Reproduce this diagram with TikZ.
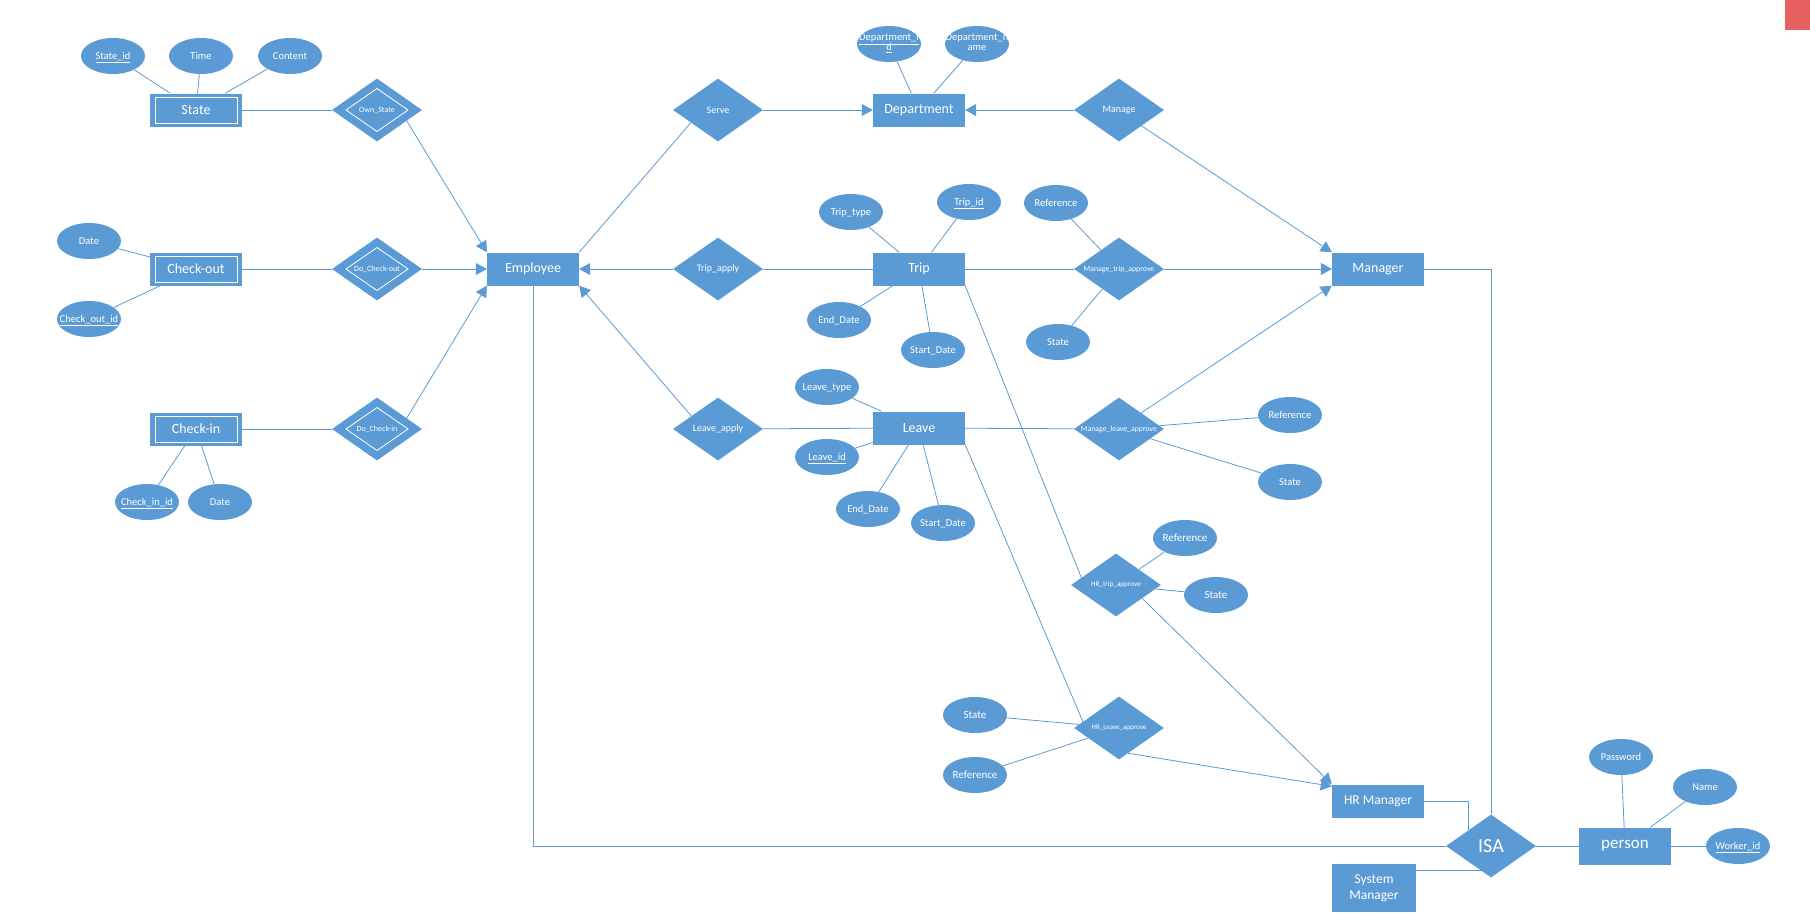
\documentclass[tikz,border=0pt]{standalone}
\usepackage{fontspec}
\setmainfont{Carlito}
\usetikzlibrary{shapes.geometric,arrows.meta}
\definecolor{erblue}{HTML}{5B9BD5}
\definecolor{tabred}{HTML}{E6605F}
% text of an attribute may run past its ellipse
\newcommand{\attrtxt}[1]{\smash{\makebox[0pt]{\raisebox{-0.33em}{#1}}}}
\newcommand{\attrtwo}[2]{\smash{\makebox[0pt]{\raisebox{-0.2em}{\begin{tabular}{@{}c@{}}#1\\[-2pt]#2\end{tabular}}}}}

\begin{document}
\begin{tikzpicture}[x=1pt, y=-1pt]
    % Style definitions for the ER shapes
    \tikzset{entity/.style={rectangle, minimum width=92pt, minimum height=33pt, inner sep=1pt,
             text centered, fill=erblue, text=white, font=\fontsize{14}{16}\selectfont},
             weakentity/.style={entity, path picture={\draw [white, line width=0.9pt]
                 ([xshift=5pt, yshift=-3.5pt]path picture bounding box.north west) rectangle
                 ([xshift=-5pt, yshift=3.5pt]path picture bounding box.south east);}},
             relation/.style={diamond, aspect=1.43, minimum width=90pt, minimum height=63pt, inner sep=0pt,
             text centered, fill=erblue, text=white, font=\fontsize{10}{12}\selectfont},
             weakrelation/.style={relation, font=\fontsize{8}{10}\selectfont, path picture={\draw [white, line width=0.8pt]
                 ([xshift=-31pt]path picture bounding box.center) -- ([yshift=21.5pt]path picture bounding box.center) --
                 ([xshift=31pt]path picture bounding box.center) -- ([yshift=-21.5pt]path picture bounding box.center) -- cycle;}},
             attribute/.style={ellipse, minimum width=64pt, minimum height=36pt, inner sep=0pt,
             fill=erblue, text=white, font=\fontsize{10.5}{12}\selectfont},
             small/.style={font=\fontsize{7.8}{9}\selectfont},
             link/.style={draw=erblue, line width=0.8pt}}
    \tikzstyle{arrow} = [link, -{Triangle[length=11pt, width=12pt]}]

    \path [use as bounding box, fill=white] (0,0) rectangle (1810,916);
    \fill [tabred] (1785,0) rectangle (1810,30);

    % Weak entities and their relations
    \node (state) [weakentity] at (196,110) {State};
    \node (checkout) [weakentity] at (196,269) {Check-out};
    \node (checkin) [weakentity] at (196,429) {Check-in};
    \node (ownstate) [weakrelation] at (377,110) {Own\_State};
    \node (docheckout) [weakrelation] at (377,269) {Do\_Check-out};
    \node (docheckin) [weakrelation] at (377,429) {Do\_Check-in};

    % Main entities
    \node (employee) [entity] at (533,269) {Employee};
    \node (department) [entity] at (919,110) {Department};
    \node (trip) [entity] at (919,269) {Trip};
    \node (leave) [entity] at (919,428) {Leave};
    \node (manager) [entity] at (1378,269) {Manager};
    \node (hrmgr) [entity, font=\fontsize{13.5}{16}\selectfont] at (1378,801) {HR Manager};
    \node (sysmgr) [entity, minimum width=84pt, minimum height=48pt, align=center,
          font=\fontsize{13.5}{16}\selectfont] at (1374,888) {System\\Manager};
    \node (person) [entity, minimum height=37pt, font=\fontsize{17}{19}\selectfont] at (1625,846) {person};

    % Relations
    \node (serve) [relation] at (718,110) {Serve};
    \node (tripapply) [relation] at (718,269) {Trip\_apply};
    \node (leaveapply) [relation] at (718,429) {Leave\_apply};
    \node (manage) [relation] at (1119,110) {Manage};
    \node (mtrip) [relation, small] at (1119,269) {Manage\_trip\_approve};
    \node (mleave) [relation, small] at (1119,429) {Manage\_leave\_approve};
    \node (hrtrip) [relation, font=\fontsize{7.2}{9}\selectfont] at (1116,585) {HR\_trip\_approve};
    \node (hrleave) [relation, font=\fontsize{7}{9}\selectfont] at (1119,728) {HR\_Leave\_approve};
    \node (isa) [relation, font=\fontsize{20}{22}\selectfont] at (1491,846) {ISA};

    % Attributes
    \node (stateid) [attribute] at (113,56) {\attrtxt{\underline{State\_id}}};
    \node (time) [attribute] at (201,56) {\attrtxt{Time}};
    \node (content) [attribute] at (290,56) {\attrtxt{Content}};
    \node (codate) [attribute] at (89,241) {\attrtxt{Date}};
    \node (coid) [attribute] at (89,319) {\attrtxt{\underline{Check\_out\_id}}};
    \node (ciid) [attribute] at (147,502) {\attrtxt{\underline{Check\_in\_id}}};
    \node (cidate) [attribute] at (220,502) {\attrtxt{Date}};
    \node (deptid) [attribute] at (889,44) {\attrtwo{\underline{Department\_i}}{\underline{d}}};
    \node (deptname) [attribute] at (977,44) {\attrtwo{Department\_n}{ame}};
    \node (triptype) [attribute] at (851,212) {\attrtxt{Trip\_type}};
    \node (tripid) [attribute] at (969,202) {\attrtxt{\underline{Trip\_id}}};
    \node (tripend) [attribute] at (839,320) {\attrtxt{End\_Date}};
    \node (tripstart) [attribute] at (933,350) {\attrtxt{Start\_Date}};
    \node (leavetype) [attribute] at (827,387) {\attrtxt{Leave\_type}};
    \node (leaveid) [attribute] at (827,457) {\attrtxt{\underline{Leave\_id}}};
    \node (leaveend) [attribute] at (868,509) {\attrtxt{End\_Date}};
    \node (leavestart) [attribute] at (943,523) {\attrtxt{Start\_Date}};
    \node (mtripref) [attribute] at (1056,203) {\attrtxt{Reference}};
    \node (mtripstate) [attribute] at (1058,342) {\attrtxt{State}};
    \node (mleaveref) [attribute] at (1290,415) {\attrtxt{Reference}};
    \node (mleavestate) [attribute] at (1290,482) {\attrtxt{State}};
    \node (hrtripref) [attribute, font=\fontsize{11}{12}\selectfont] at (1185,538) {\attrtxt{Reference}};
    \node (hrtripstate) [attribute, font=\fontsize{11}{12}\selectfont] at (1216,595) {\attrtxt{State}};
    \node (hrleavestate) [attribute, font=\fontsize{11}{12}\selectfont] at (975,715) {\attrtxt{State}};
    \node (hrleaveref) [attribute, font=\fontsize{11}{12}\selectfont] at (975,775) {\attrtxt{Reference}};
    \node (password) [attribute] at (1621,757) {\attrtxt{Password}};
    \node (name) [attribute] at (1705,787) {\attrtxt{Name}};
    \node (workerid) [attribute] at (1738,846) {\attrtxt{\underline{Worker\_id}}};

    % Attribute lines
    \draw [link] (stateid) -- (state);
    \draw [link] (time) -- (state);
    \draw [link] (content) -- (state);
    \draw [link] (codate) -- (checkout);
    \draw [link] (coid) -- (checkout);
    \draw [link] (ciid) -- (checkin);
    \draw [link] (cidate) -- (checkin);
    \draw [link] (deptid) -- (department);
    \draw [link] (deptname) -- (department);
    \draw [link] (triptype) -- (trip);
    \draw [link] (tripid) -- (trip);
    \draw [link] (tripend) -- (trip);
    \draw [link] (tripstart) -- (trip);
    \draw [link] (leavetype) -- (leave);
    \draw [link] (leaveid) -- (leave);
    \draw [link] (leaveend) -- (leave);
    \draw [link] (leavestart) -- (leave);
    \draw [link] (mtripref) -- (mtrip);
    \draw [link] (mtripstate) -- (mtrip);
    \draw [link] (mleaveref) -- (mleave);
    \draw [link] (mleavestate) -- (mleave);
    \draw [link] (hrtripref) -- (hrtrip);
    \draw [link] (hrtripstate) -- (hrtrip);
    \draw [link] (hrleavestate) -- (hrleave);
    \draw [link] (hrleaveref) -- (hrleave);
    \draw [link] (password) -- (person);
    \draw [link] (name) -- (person);
    \draw [link] (workerid) -- (person);

    % Relation lines
    \draw [link] (state) -- (ownstate);
    \draw [link] (checkout) -- (docheckout);
    \draw [link] (checkin) -- (docheckin);
    \draw [link] (serve.205) -- (employee.north east);
    \draw [link] (trip) -- (tripapply);
    \draw [link] (leave) -- (leaveapply);
    \draw [link] (trip) -- (mtrip);
    \draw [link] (leave) -- (mleave);
    \draw [link] (trip.south east) -- (hrtrip.168);
    \draw [link] (leave.south east) -- (hrleave.170);
    \draw [link] (isa) -- (person);
    \draw [link] (employee.south) |- (isa.west);
    \draw [link] (manager.east) -| (isa.north);
    \draw [link] (hrmgr.east) -| (isa.north west);
    \draw [link] (isa.248) -- (isa.248 -| sysmgr.east);

    % Arrows
    \draw [arrow] (ownstate.-20) -- (employee.north west);
    \draw [arrow] (docheckout) -- (employee);
    \draw [arrow] (docheckin.20) -- (employee.south west);
    \draw [arrow] (tripapply) -- (employee);
    \draw [arrow] (leaveapply.154) -- (employee.south east);
    \draw [arrow] (serve) -- (department);
    \draw [arrow] (manage) -- (department);
    \draw [arrow] (manage.-35) -- (manager.north west);
    \draw [arrow] (mtrip) -- (manager);
    \draw [arrow] (mleave.36) -- (manager.south west);
    \draw [arrow] (hrtrip.-27) -- (hrmgr.north west);
    \draw [arrow] (hrleave.-70) -- ([yshift=-2pt]hrmgr.north west);
\end{tikzpicture}
\end{document}
